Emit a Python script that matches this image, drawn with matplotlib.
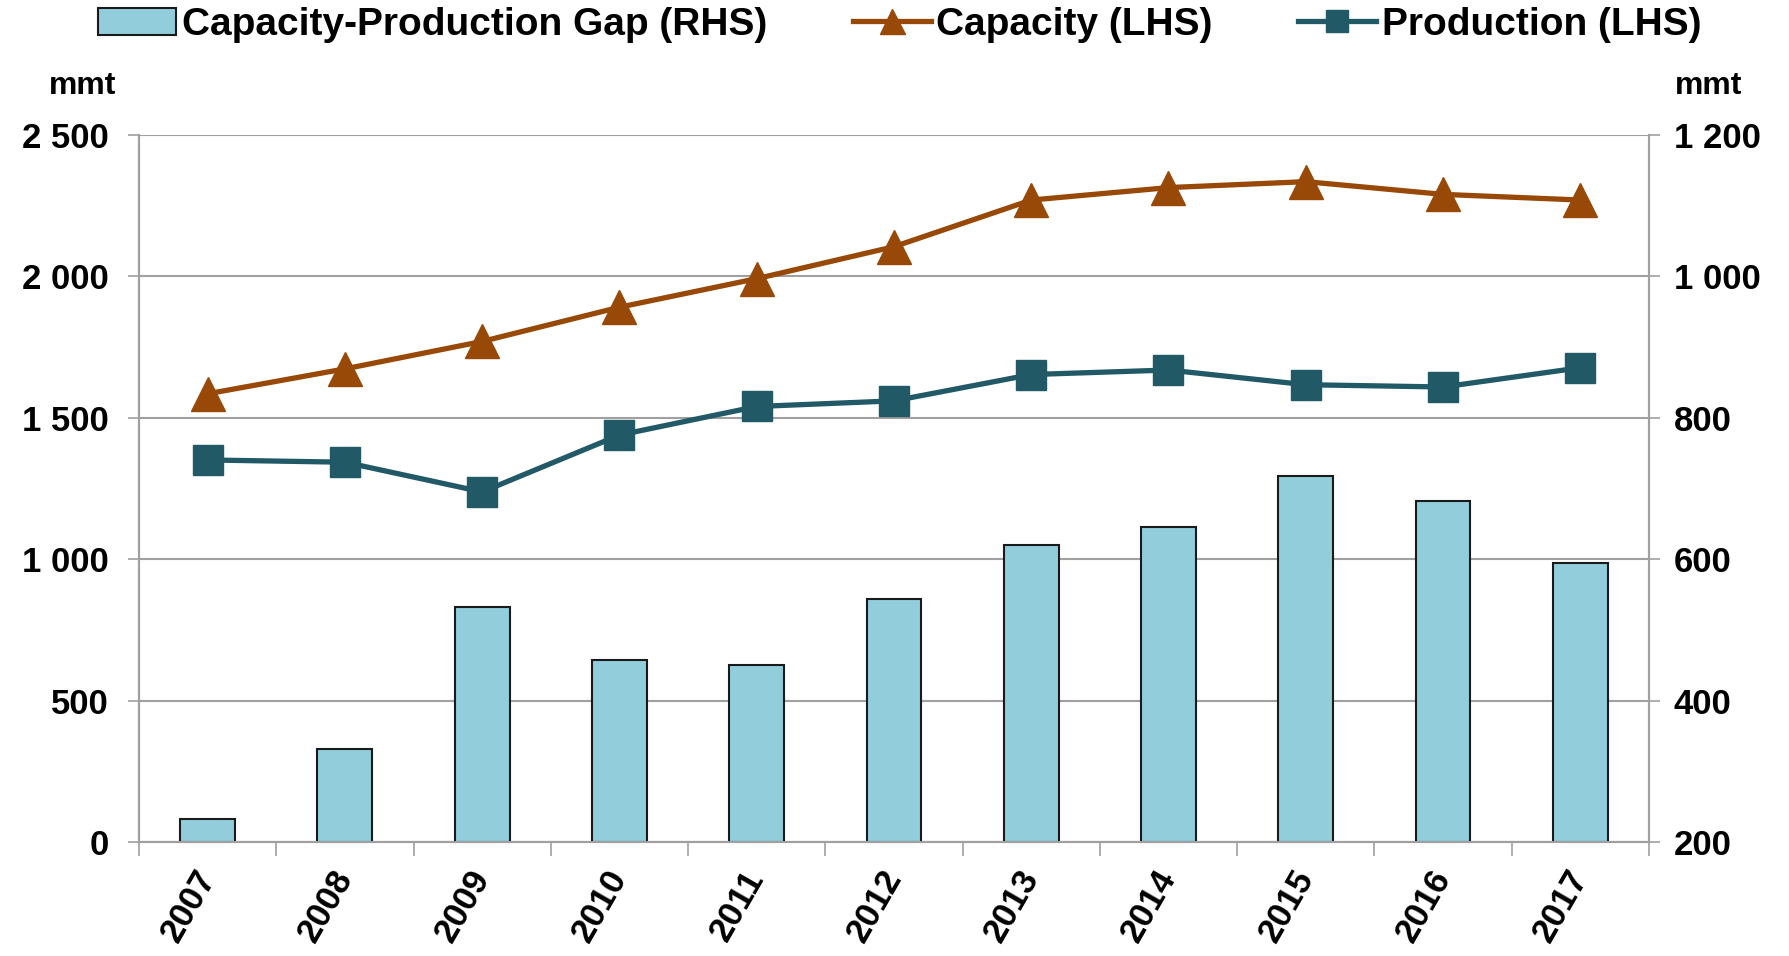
import matplotlib.pyplot as plt
from matplotlib.lines import Line2D
from matplotlib.patches import Patch
from matplotlib.ticker import FuncFormatter

plt.rcParams['font.family'] = ['Liberation Sans', 'DejaVu Sans']
plt.rcParams['font.weight'] = 'bold'

years = ["2007", "2008", "2009", "2010", "2011", "2012", "2013", "2014", "2015", "2016", "2017"]
capacity = [1585, 1673, 1770, 1891, 1992, 2105, 2270, 2314, 2335, 2290, 2270]
production = [1351, 1343, 1238, 1439, 1540, 1560, 1653, 1669, 1617, 1609, 1677]
gap = [232, 331, 532, 458, 451, 544, 620, 645, 718, 683, 594]

bar_col = "#92CDDC"
cap_col = "#984807"
prod_col = "#215967"
grid_col = "#A0A0A0"

fig = plt.figure(figsize=(17.89, 9.56), dpi=100)
ax = fig.add_axes([0.0777, 0.1192, 0.844, 0.7396])
ax2 = ax.twinx()

x = list(range(len(years)))

# bars on the right axis, starting from its bottom (200)
ax2.bar(x, [g - 200 for g in gap], bottom=200, width=0.4, color=bar_col,
        edgecolor="#1a1a1a", linewidth=1.5, zorder=2)
ax2.set_ylim(200, 1200)
ax2.set_yticks([200, 400, 600, 800, 1000, 1200])

# lines must sit on top of the bars -> draw them on ax2 in left-axis units
ax.set_ylim(0, 2500)
ax.set_yticks([0, 500, 1000, 1500, 2000, 2500])
scale = lambda v: 200 + v * 1000 / 2500
ax2.plot(x, [scale(v) for v in capacity], color=cap_col, lw=3.8, marker="^",
         markersize=24, zorder=4, clip_on=False)
ax2.plot(x, [scale(v) for v in production], color=prod_col, lw=3.8, marker="s",
         markersize=21, zorder=4, clip_on=False)

ax.set_xlim(-0.5, len(years) - 0.5)
ax.set_xticks([i - 0.5 for i in range(len(years) + 1)])
ax.set_xticklabels([])
ax.set_xticks(x, minor=True)
ax.set_xticklabels(years, minor=True, rotation=60, ha="right", va="center",
                   rotation_mode="anchor", fontsize=25, fontweight="bold")
ax.tick_params(axis="x", which="major", length=10, width=1.2, color=grid_col, direction="out")
ax.tick_params(axis="x", which="minor", length=0, pad=22)

fmt = FuncFormatter(lambda v, p: f"{int(v):,}".replace(",", " "))
ax.yaxis.set_major_formatter(fmt)
ax2.yaxis.set_major_formatter(fmt)
ax.tick_params(axis="y", length=8, width=1.2, color=grid_col, pad=14, labelsize=25)
ax2.tick_params(axis="y", length=8, width=1.2, color=grid_col, pad=10, labelsize=25)
for lab in ax.get_yticklabels() + ax2.get_yticklabels():
    lab.set_fontweight("bold")

ax.grid(axis="y", color=grid_col, lw=1.5, zorder=0)
ax.set_axisbelow(True)
for a in (ax, ax2):
    a.spines["top"].set_visible(False)
    for s in ("left", "right", "bottom"):
        a.spines[s].set_color(grid_col)
        a.spines[s].set_linewidth(1.5)
ax2.patch.set_visible(False)

fig.text(0.046, 0.91, "mmt", ha="center", va="center", fontsize=23, fontweight="bold")
fig.text(0.955, 0.91, "mmt", ha="center", va="center", fontsize=23, fontweight="bold")

handles = [
    Patch(facecolor=bar_col, edgecolor="#1a1a1a", linewidth=1.5),
    Line2D([], [], color=cap_col, lw=3.8, marker="^", markersize=18),
    Line2D([], [], color=prod_col, lw=3.8, marker="s", markersize=16),
]
labels = ["Capacity-Production Gap (RHS)", "Capacity (LHS)", "Production (LHS)"]
fig.legend(handles, labels, loc="center", bbox_to_anchor=(0.503, 0.974), ncol=3,
           frameon=False, fontsize=28, handlelength=2.0, handletextpad=0.15,
           columnspacing=2.2, borderaxespad=0)

fig.savefig("out.png", dpi=100)
